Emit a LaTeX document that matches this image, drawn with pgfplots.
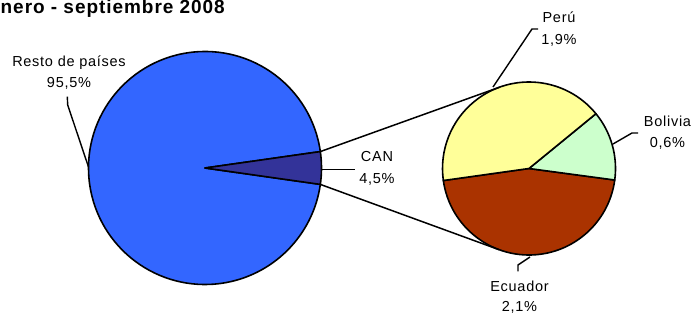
\documentclass[border=0pt]{standalone}
\usepackage{pgfplots}
\pgfplotsset{compat=1.18}
\usepackage{fontspec}
\setmainfont{Liberation Sans}[LetterSpace=5]
\definecolor{mainblue}{RGB}{51,102,255}
\definecolor{canblue}{RGB}{51,51,153}
\definecolor{peruc}{RGB}{255,255,153}
\definecolor{bolc}{RGB}{204,255,204}
\definecolor{ecuc}{RGB}{170,51,0}
% data (percent of total)
\def\resto{95.5}
\def\can{4.5}
\def\peru{1.9}
\def\bolivia{0.6}
\def\ecuador{2.1}
\begin{document}
\begin{tikzpicture}
\pgfmathsetmacro{\canhalf}{\can/(\resto+\can)*360/2}
\pgfmathsetmacro{\subtot}{\peru+\bolivia+\ecuador}
\pgfmathsetmacro{\ecuA}{188}
\pgfmathsetmacro{\ecuB}{\ecuA+\ecuador/\subtot*360}
\pgfmathsetmacro{\bolB}{\ecuB+\bolivia/\subtot*360}
\pgfmathsetmacro{\perB}{\bolB+\peru/\subtot*360}
\begin{axis}[x=1pt,y=1pt,xmin=0,xmax=692,ymin=0,ymax=315,
  hide axis,clip=false,scale only axis]
% main pie
\filldraw[fill=mainblue,draw=black,line width=1.6pt,line join=round]
  (axis cs:205,147) -- ++(\canhalf:116.5pt)
  arc[start angle=\canhalf,end angle=360-\canhalf,radius=116.5pt] -- cycle;
\filldraw[fill=canblue,draw=black,line width=1.6pt,line join=round]
  (axis cs:205,147) -- ++(-\canhalf:116.5pt)
  arc[start angle=-\canhalf,end angle=\canhalf,radius=116.5pt] -- cycle;
% second pie
\filldraw[fill=ecuc,draw=black,line width=1.6pt,line join=round]
  (axis cs:529,146.5) -- ++(\ecuA:86.5pt)
  arc[start angle=\ecuA,end angle=\ecuB,radius=86.5pt] -- cycle;
\filldraw[fill=bolc,draw=black,line width=1.6pt,line join=round]
  (axis cs:529,146.5) -- ++(\ecuB:86.5pt)
  arc[start angle=\ecuB,end angle=\bolB,radius=86.5pt] -- cycle;
\filldraw[fill=peruc,draw=black,line width=1.6pt,line join=round]
  (axis cs:529,146.5) -- ++(\bolB:86.5pt)
  arc[start angle=\bolB,end angle=\perB,radius=86.5pt] -- cycle;
% connector lines
\draw[line width=1.5pt] (axis cs:320.3,163.4) -- (axis cs:499.6,227.8);
\draw[line width=1.5pt] (axis cs:320.3,130.6) -- (axis cs:499.1,65.3);
% leader lines
\draw[line width=1.4pt] (axis cs:67.3,218.3) -- (axis cs:67.7,210) -- (axis cs:88.5,148);
\draw[line width=1.4pt] (axis cs:322,145.5) -- (axis cs:355,145.5);
\draw[line width=1.4pt] (axis cs:493,228) -- (axis cs:532,286) -- (axis cs:538,286);
\draw[line width=1.4pt] (axis cs:613,171) -- (axis cs:632,182) -- (axis cs:638,182);
\draw[line width=1.4pt] (axis cs:530,58) -- (axis cs:518,50) -- (axis cs:518,43.5);
% labels
\tikzset{lab/.style={anchor=base,inner sep=0pt,font=\fontsize{14.5}{22}\selectfont}}
\node[lab] at (axis cs:69,248.5) {Resto de países};
\node[lab] at (axis cs:69,227) {95,5\%};
\node[lab] at (axis cs:377,153) {CAN};
\node[lab] at (axis cs:377,131) {4,5\%};
\node[lab] at (axis cs:559,292) {Perú};
\node[lab] at (axis cs:559,270.5) {1,9\%};
\node[lab] at (axis cs:667.5,188.5) {Bolivia};
\node[lab] at (axis cs:667.5,167) {0,6\%};
\node[lab] at (axis cs:519.5,23) {Ecuador};
\node[lab] at (axis cs:519.5,3) {2,1\%};
\node[anchor=base west,inner sep=0pt,font=\bfseries\fontsize{19}{22}\selectfont]
  at (axis cs:0.5,301) {nero - septiembre 2008};
\end{axis}
\pgfresetboundingbox
\useasboundingbox (0,0) rectangle (692pt,315pt);
\end{tikzpicture}
\end{document}
